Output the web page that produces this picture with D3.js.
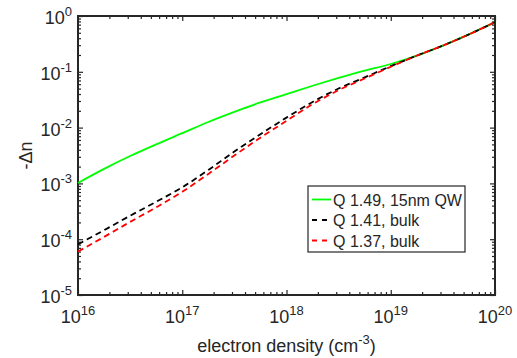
<!DOCTYPE html><meta charset="utf-8">
<html>
<head>
<script src="https://cdn.jsdelivr.net/npm/d3@7"></script>
<style>
  body { margin: 0; background: #fff; }
  text { font-family: "Liberation Sans", Arial, sans-serif; fill: #262626; }
</style>
</head>
<body>
<svg id="viz"></svg>
<script>
// electron density (cm^-3)
var density = [1e16, 1.78e16, 3.16e16, 5.62e16, 1e17, 1.78e17, 3.16e17, 5.62e17, 1e18,
               1.78e18, 3.16e18, 5.62e18, 1e19, 1.78e19, 3.16e19, 5.62e19, 1e20];
// -delta n for each curve
var qw149 = [1.02e-3, 1.82e-3, 3.09e-3, 5.01e-3, 7.94e-3, 1.26e-2, 1.91e-2, 2.82e-2, 3.98e-2,
             5.62e-2, 7.76e-2, 0.105, 0.138, 0.195, 0.295, 0.468, 0.776];
var bulk141 = [8.1e-5, 1.45e-4, 2.63e-4, 4.68e-4, 8.5e-4, 1.74e-3, 3.72e-3, 7.59e-3, 1.51e-2,
               2.88e-2, 5.01e-2, 7.94e-2, 0.126, 0.195, 0.295, 0.468, 0.776];
var bulk137 = [6.0e-5, 1.10e-4, 2.04e-4, 3.72e-4, 7.08e-4, 1.48e-3, 3.16e-3, 6.61e-3, 1.32e-2,
               2.63e-2, 4.68e-2, 7.59e-2, 0.123, 0.195, 0.295, 0.468, 0.776];
var seriesNames = ["Q 1.49, 15nm QW", "Q 1.41, bulk", "Q 1.37, bulk"];
var xExp = [16, 17, 18, 19, 20];
var yExp = [-5, -4, -3, -2, -1, 0];

var width = 517, height = 358;
var margin = {top: 16, right: 22, bottom: 63, left: 78};
var svg = d3.select("#viz").attr("width", width).attr("height", height);

var x = d3.scaleLog().domain([1e16, 1e20]).range([margin.left, width - margin.right]);
var y = d3.scaleLog().domain([1e-5, 1]).range([height - margin.bottom, margin.top]);

var xTicks = x.ticks(), yTicks = y.ticks();
function isMajor(v) { return Math.abs(Math.log10(v) - Math.round(Math.log10(v))) < 1e-9; }

// tick marks on all four sides, pointing inward
function styleAxis(g) {
    g.select(".domain").remove();
    g.selectAll(".tick text").remove();
    g.selectAll(".tick line").attr("stroke", "#262626").attr("stroke-width", 1.2);
}
var x0 = height - margin.bottom, x1 = margin.top;
svg.append("g").attr("transform", "translate(0," + x0 + ")")
    .call(d3.axisBottom(x).tickValues(xTicks).tickSize(0)).call(styleAxis)
    .selectAll(".tick line").attr("y2", function(d) { return isMajor(d) ? -5 : -3; });
svg.append("g").attr("transform", "translate(0," + x1 + ")")
    .call(d3.axisTop(x).tickValues(xTicks).tickSize(0)).call(styleAxis)
    .selectAll(".tick line").attr("y2", function(d) { return isMajor(d) ? 5 : 3; });
svg.append("g").attr("transform", "translate(" + margin.left + ",0)")
    .call(d3.axisLeft(y).tickValues(yTicks).tickSize(0)).call(styleAxis)
    .selectAll(".tick line").attr("x2", function(d) { return isMajor(d) ? 5 : 3; });
svg.append("g").attr("transform", "translate(" + (width - margin.right) + ",0)")
    .call(d3.axisRight(y).tickValues(yTicks).tickSize(0)).call(styleAxis)
    .selectAll(".tick line").attr("x2", function(d) { return isMajor(d) ? -5 : -3; });

// box
svg.append("rect")
    .attr("x", margin.left).attr("y", margin.top)
    .attr("width", width - margin.left - margin.right)
    .attr("height", height - margin.top - margin.bottom)
    .attr("fill", "none").attr("stroke", "#262626").attr("stroke-width", 2);

// tick labels with superscripts
svg.append("g").selectAll("text").data(xExp).enter().append("text")
    .attr("x", function(d) { return x(Math.pow(10, d)); })
    .attr("y", 323)
    .attr("text-anchor", "middle")
    .style("font-size", "18px")
    .each(function(d) {
        var t = d3.select(this);
        t.append("tspan").text("10");
        t.append("tspan").attr("dy", -8).style("font-size", "13px").text(d);
    });
svg.append("g").selectAll("text").data(yExp).enter().append("text")
    .attr("x", 72)
    .attr("y", function(d) { return y(Math.pow(10, d)) + 8; })
    .attr("text-anchor", "end")
    .style("font-size", "18px")
    .each(function(d) {
        var t = d3.select(this);
        t.append("tspan").text("10");
        t.append("tspan").attr("dy", -8).style("font-size", "13px").text(d);
    });

// axis titles
var xl = svg.append("text").attr("x", (margin.left + width - margin.right) / 2).attr("y", 352)
    .attr("text-anchor", "middle").style("font-size", "18px");
xl.append("tspan").text("electron density (cm");
xl.append("tspan").attr("dy", -8).style("font-size", "13px").text("-3");
xl.append("tspan").attr("dy", 8).text(")");

svg.append("text")
    .attr("transform", "translate(32," + ((margin.top + height - margin.bottom) / 2) + ") rotate(-90)")
    .attr("text-anchor", "middle").style("font-size", "18px")
    .text("-\u0394n");

// curves
var line = d3.line()
    .x(function(d, i) { return x(density[i]); })
    .y(function(d) { return y(d); })
    .curve(d3.curveMonotoneX);

var series = [
    {name: seriesNames[0], values: qw149, color: "#00ff00", dash: null},
    {name: seriesNames[1], values: bulk141, color: "#000000", dash: "6,4"},
    {name: seriesNames[2], values: bulk137, color: "#ff0000", dash: "6,4"}
];

svg.append("g").selectAll("path").data(series).enter().append("path")
    .attr("d", function(d) { return line(d.values); })
    .attr("fill", "none")
    .attr("stroke", function(d) { return d.color; })
    .attr("stroke-width", 1.8)
    .attr("stroke-dasharray", function(d) { return d.dash; });

// legend
var lg = svg.append("g").attr("transform", "translate(308,186)");
lg.append("rect").attr("width", 157).attr("height", 66)
    .attr("fill", "#fff").attr("stroke", "#262626").attr("stroke-width", 1.2);
var item = lg.selectAll("g").data(series).enter().append("g")
    .attr("transform", function(d, i) { return "translate(0," + (13.5 + i * 20.5) + ")"; });
item.append("line").attr("x1", 4).attr("x2", 23)
    .attr("stroke", function(d) { return d.color; })
    .attr("stroke-width", 1.8)
    .attr("stroke-dasharray", function(d) { return d.dash ? "5,5" : null; });
item.append("text").attr("x", 25).attr("y", 6)
    .style("font-size", "16px")
    .text(function(d) { return d.name; });
</script>
</body>
</html>
